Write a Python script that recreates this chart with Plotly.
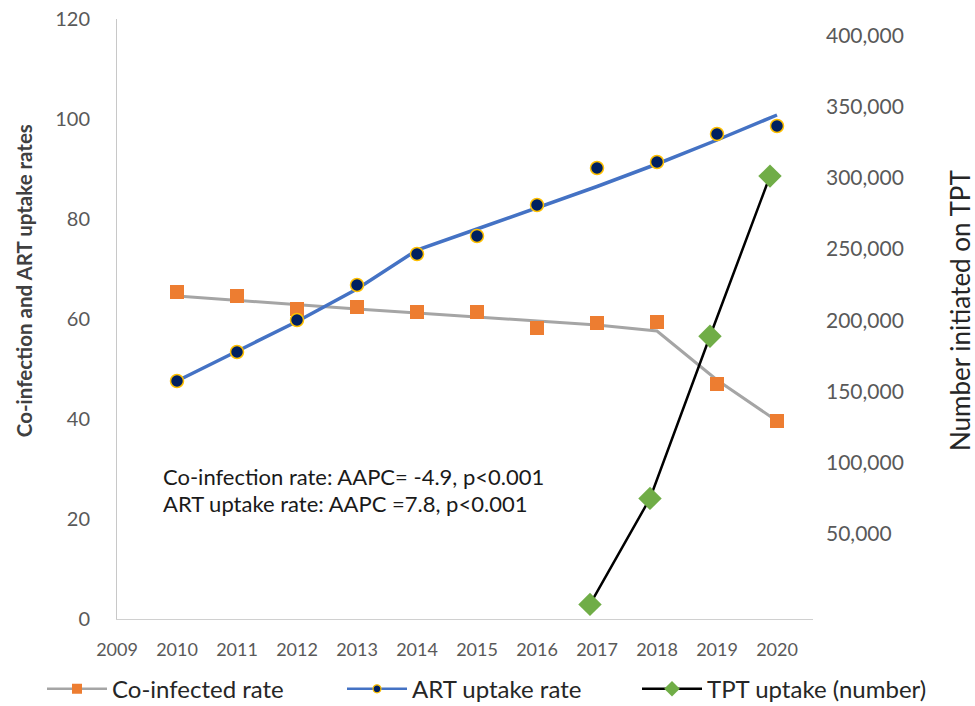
import plotly.graph_objects as go

# ---------------- data ----------------
years = [2010, 2011, 2012, 2013, 2014, 2015, 2016, 2017, 2018, 2019, 2020]
coinf_obs = [65.4, 64.6, 62.0, 62.4, 61.4, 61.4, 58.2, 59.2, 59.4, 47.0, 39.6]
coinf_fit = [64.6, 63.7, 62.9, 62.0, 61.2, 60.4, 59.6, 58.8, 57.6, 47.8, 39.6]
art_obs = [47.6, 53.4, 59.8, 66.8, 73.0, 76.6, 82.8, 90.2, 91.4, 97.0, 98.6]
art_fit = [47.6, 53.5, 59.5, 66.0, 73.8, 78.0, 82.3, 86.5, 91.0, 95.8, 100.8]
tpt_years = [2017, 2018, 2019, 2020]
tpt_number = [0, 74600, 188700, 301400]

x_ticks = list(range(2009, 2021))
left_ticks = [0, 20, 40, 60, 80, 100, 120]
right_ticks = [50000, 100000, 150000, 200000, 250000, 300000, 350000, 400000]

series_names = ["Co-infected rate", "ART uptake rate", "TPT uptake (number)"]
annot_lines = ["Co-infection rate: AAPC= -4.9, p<0.001",
               "ART uptake rate: AAPC =7.8, p<0.001"]
left_title = "Co-infection and ART uptake rates"
right_title = "Number initiated on TPT"

# ---------------- styles ----------------
FONT = "Lato"
ORANGE = "#ED7D31"
GREY = "#A5A5A5"
BLUE = "#4472C4"
NAVY = "#002060"
GOLD = "#FFC000"
GREEN = "#70AD47"
TICKC = "#595959"

fig = go.Figure()

# fitted lines
fig.add_trace(go.Scatter(x=years, y=coinf_fit, mode="lines",
                         line=dict(color=GREY, width=3), showlegend=False, hoverinfo="skip"))
fig.add_trace(go.Scatter(x=years, y=art_fit, mode="lines",
                         line=dict(color=BLUE, width=3.5), showlegend=False, hoverinfo="skip"))
# observed markers
fig.add_trace(go.Scatter(x=years, y=coinf_obs, mode="markers",
                         marker=dict(symbol="square", size=14, color=ORANGE),
                         showlegend=False))
fig.add_trace(go.Scatter(x=years, y=art_obs, mode="markers",
                         marker=dict(symbol="circle", size=13, color=NAVY,
                                     line=dict(color=GOLD, width=1.5)),
                         showlegend=False))
# TPT on secondary axis
fig.add_trace(go.Scatter(x=tpt_years, y=tpt_number, mode="lines+markers",
                         xaxis="x3", yaxis="y2",
                         line=dict(color="black", width=2.5),
                         marker=dict(symbol="diamond", size=18, color=GREEN),
                         showlegend=False))

# legend-only entries (one legend each, so they sit in one row like the original)
fig.add_trace(go.Scatter(x=[None], y=[None], mode="lines+markers", name=series_names[0],
                         legend="legend",
                         line=dict(color=GREY, width=2.5),
                         marker=dict(symbol="square", size=10, color=ORANGE)))
fig.add_trace(go.Scatter(x=[None], y=[None], mode="lines+markers", name=series_names[1],
                         legend="legend2",
                         line=dict(color=BLUE, width=2.5),
                         marker=dict(symbol="circle", size=8, color=NAVY,
                                     line=dict(color=GOLD, width=1.2))))
fig.add_trace(go.Scatter(x=[None], y=[None], mode="lines+markers", name=series_names[2],
                         legend="legend3",
                         line=dict(color="black", width=2.5),
                         marker=dict(symbol="diamond", size=12, color=GREEN)))

annotations = [
    dict(text=annot_lines[0], x=0.063, y=0.238, xref="paper", yref="paper",
         xanchor="left", yanchor="middle", showarrow=False,
         font=dict(family=FONT, size=22, color="#1a1a1a")),
    dict(text=annot_lines[1], x=0.063, y=0.193, xref="paper", yref="paper",
         xanchor="left", yanchor="middle", showarrow=False,
         font=dict(family=FONT, size=22, color="#1a1a1a")),
    dict(text="<b>" + left_title + "</b>", x=-0.1336, y=0.563, xref="paper", yref="paper",
         xanchor="center", yanchor="middle", showarrow=False, textangle=-90,
         font=dict(family=FONT, size=20.5, color="#404040")),
    dict(text=right_title, x=1.2112, y=0.515, xref="paper", yref="paper",
         xanchor="center", yanchor="middle", showarrow=False, textangle=-90,
         font=dict(family=FONT, size=26, color="#262626")),
]

leg_font = dict(family=FONT, size=24, color="#262626")
leg_common = dict(orientation="h", yanchor="middle", xanchor="left", y=-0.117,
                  font=leg_font, itemwidth=60, bgcolor="rgba(0,0,0,0)")

fig.update_layout(
    width=975, height=706,
    margin=dict(l=117, r=162, t=19, b=87, autoexpand=False),
    paper_bgcolor="white", plot_bgcolor="white",
    font=dict(family=FONT, color=TICKC),
    xaxis=dict(range=[2009, 2020.6], tickvals=x_ticks, ticktext=[str(v) for v in x_ticks],
               showgrid=False, zeroline=False, showline=True, linecolor="#D0D0D0",
               linewidth=1, ticks="", tickfont=dict(family=FONT, size=18, color=TICKC),
               ticklabelstandoff=14),
    xaxis3=dict(range=[2009.117, 2020.717], overlaying="x", visible=False),
    yaxis=dict(range=[0, 120], tickvals=left_ticks, showgrid=False, zeroline=False,
               showline=True, linecolor="#C8C8C8", linewidth=1, ticks="",
               tickfont=dict(family=FONT, size=20, color=TICKC), ticklabelstandoff=22),
    yaxis2=dict(range=[-10270, 411950], overlaying="y", side="right", tickvals=right_ticks,
                tickformat=",", showgrid=False, zeroline=False, showline=False, ticks="",
                tickfont=dict(family=FONT, size=21, color=TICKC), ticklabelstandoff=12),
    legend=dict(x=(42 - 117) / 696, **leg_common),
    legend2=dict(x=(342 - 117) / 696, **leg_common),
    legend3=dict(x=(637 - 117) / 696, **leg_common),
    annotations=annotations,
)

fig.write_html("out.html")
